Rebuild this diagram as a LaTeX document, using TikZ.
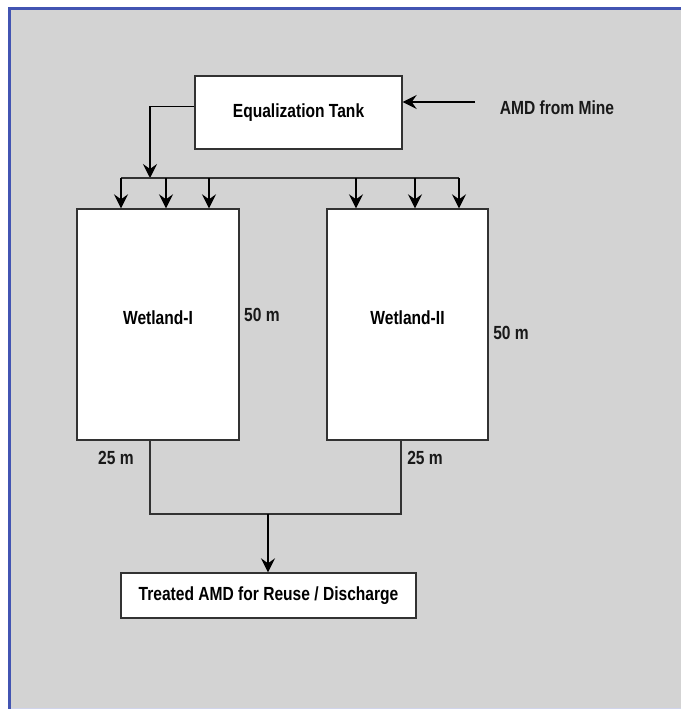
\documentclass[tikz,border=0pt]{standalone}
\usepackage{fontspec}
\setmainfont{Liberation Sans}[FakeStretch=0.82]
\usepackage{tikz}
\usetikzlibrary{arrows.meta,positioning,calc}
\definecolor{panel}{RGB}{211,211,211}
\definecolor{frameblue}{RGB}{66,84,178}
\definecolor{edge}{RGB}{50,50,50}
\tikzset{
  tank/.style={draw=edge,fill=white,line width=1.4pt,align=center,font=\fontsize{19}{22}\selectfont\bfseries,inner sep=0pt},
  lbl/.style={font=\fontsize{19}{22}\selectfont\bfseries,inner sep=0pt,text=black!90},
  arr/.style={-{Stealth[length=14pt,width=14pt,inset=5pt]},line width=1.3pt},
  pipe/.style={line width=1.3pt,draw=edge}
}
\begin{document}
\begin{tikzpicture}[x=1pt,y=-1pt]
\useasboundingbox (0,0) rectangle (681,709);
% panel
\fill[panel] (9,9) rectangle (681,707.5);
\draw[line width=0.8pt,draw=frameblue!25] (9,708.5) -- (681,708.5);
\draw[line width=3pt,draw=frameblue] (9,709) -- (9,9) -- (681,9);
% units
\node[tank,minimum width=207pt,minimum height=73pt] (tank) at (298.5,112.5) {Equalization Tank};
\node[tank,minimum width=162pt,minimum height=231pt,text depth=14pt] (wet1) at (158,324.5) {Wetland-I};
\node[tank,minimum width=161pt,minimum height=231pt,text depth=14pt] (wet2) at (407.5,324.5) {Wetland-II};
\node[tank,minimum width=295pt,minimum height=45pt] (out) at (268.5,595.5) {Treated AMD for Reuse / Discharge};
\node[lbl] (amd) at (557,108) {AMD from Mine};
\node[lbl] (len1) at (262,315) {50 m};
\node[lbl] (len2) at (511,333) {50 m};
\node[lbl] (wid1) at (116,458) {25 m};
\node[lbl] (wid2) at (425,458) {25 m};
% feed and distribution
\coordinate (feed) at (475,102);
\coordinate (split) at (150,178);
\coordinate (d1) at (121,178);
\coordinate (d2) at (166,178);
\coordinate (d3) at (209,178);
\coordinate (d4) at (356,178);
\coordinate (d5) at (415,178);
\coordinate (d6) at (459,178);
\draw[arr] (feed) -- (feed -| tank.east);
\draw[arr] ([yshift=6pt]tank.west) -| (split);
\draw[pipe] (d1) -- (d6);
\draw[arr] (d1) -- (d1 |- wet1.north);
\draw[arr] (d2) -- (d2 |- wet1.north);
\draw[arr] (d3) -- (d3 |- wet1.north);
\draw[arr] (d4) -- (d4 |- wet2.north);
\draw[arr] (d5) -- (d5 |- wet2.north);
\draw[arr] (d6) -- (d6 |- wet2.north);
% outlets
\coordinate (o1) at (150,514);
\coordinate (o2) at (401,514);
\coordinate (jn) at (268,514);
\draw[pipe] (o1 |- wet1.south) -- (o1) -- (o2) -- (o2 |- wet2.south);
\draw[arr] (jn) -- (jn |- out.north);
\end{tikzpicture}
\end{document}
